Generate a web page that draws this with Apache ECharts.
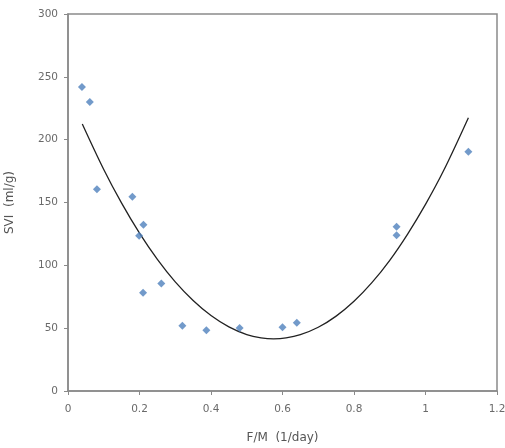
<!DOCTYPE html>
<html>
<head>
<meta charset="utf-8">
<script src="https://cdn.jsdelivr.net/npm/echarts@6/dist/echarts.min.js"></script>
<style>html,body{margin:0;padding:0;background:#fff}#c{width:505px;height:448px}</style>
</head>
<body>
<div id="c"></div>
<script>
// Measured data (F/M, SVI)
const fmValues = [0.039, 0.061, 0.081, 0.18, 0.199, 0.211, 0.21, 0.261, 0.32, 0.387, 0.48, 0.60, 0.64, 0.919, 0.919, 1.12];
const sviValues = [242, 230, 160.5, 154.5, 123.5, 132.3, 78.2, 85.5, 52, 48.3, 50.2, 50.7, 54.4, 130.7, 124, 190.4];
// Trendline
const trendX = [0.04, 0.1, 0.15, 0.2, 0.25, 0.3, 0.35, 0.4, 0.45, 0.5, 0.54, 0.575, 0.61, 0.65, 0.7, 0.75, 0.8, 0.85, 0.9, 0.95, 1.0, 1.05, 1.12];
const trendY = [212.5, 176.3, 149.5, 125.6, 104.7, 86.8, 72, 60, 51, 44.9, 42.3, 41.5, 42.2, 44.8, 50.7, 59.6, 71.4, 86.2, 104, 124.9, 148.5, 175, 217.5];
const xTicks = [0, 0.2, 0.4, 0.6, 0.8, 1, 1.2];
const yTicks = [0, 50, 100, 150, 200, 250, 300];
const xName = 'F/M  (1/day)';
const yName = 'SVI  (ml/g)';

const chart = echarts.init(document.getElementById('c'), null, {renderer: 'canvas'});
const font = '"DejaVu Sans", sans-serif';
const axisCol = '#8a8a8a';
const txtCol = '#6a6a6a';
chart.setOption({
  animation: false,
  textStyle: {fontFamily: font},
  grid: {left: 68, right: 8, top: 14, bottom: 57, outerBoundsMode: 'none', containLabel: false, show: true, borderColor: axisCol, borderWidth: 1.5, backgroundColor: 'transparent'},
  xAxis: {
    type: 'value', min: xTicks[0], max: xTicks[xTicks.length - 1], interval: 0.2,
    name: xName, nameLocation: 'middle', nameGap: 41,
    nameTextStyle: {color: '#555555', fontSize: 12, fontFamily: font},
    axisLine: {show: true, lineStyle: {color: axisCol, width: 1.5}},
    axisTick: {show: true, inside: false, length: 4, lineStyle: {color: axisCol}},
    axisLabel: {color: txtCol, fontSize: 10.5, margin: 13, fontFamily: font},
    splitLine: {show: false}
  },
  yAxis: {
    type: 'value', min: yTicks[0], max: yTicks[yTicks.length - 1], interval: 50,
    name: yName, nameLocation: 'middle', nameGap: 52,
    nameTextStyle: {color: '#555555', fontSize: 12, fontFamily: font},
    axisLine: {show: true, lineStyle: {color: axisCol, width: 1.5}},
    axisTick: {show: true, inside: false, length: 4, lineStyle: {color: axisCol}},
    axisLabel: {color: txtCol, fontSize: 10.5, margin: 10, fontFamily: font},
    splitLine: {show: false}
  },
  series: [
    {
      type: 'line',
      data: trendX.map((x, i) => [x, trendY[i]]),
      smooth: 0.35,
      showSymbol: false,
      lineStyle: {color: '#222222', width: 1.3},
      z: 2
    },
    {
      type: 'scatter',
      data: fmValues.map((x, i) => [x, sviValues[i]]),
      symbol: 'diamond',
      symbolSize: 8,
      itemStyle: {color: '#4F81BD'},
      z: 3
    }
  ]
});
</script>
</body>
</html>
